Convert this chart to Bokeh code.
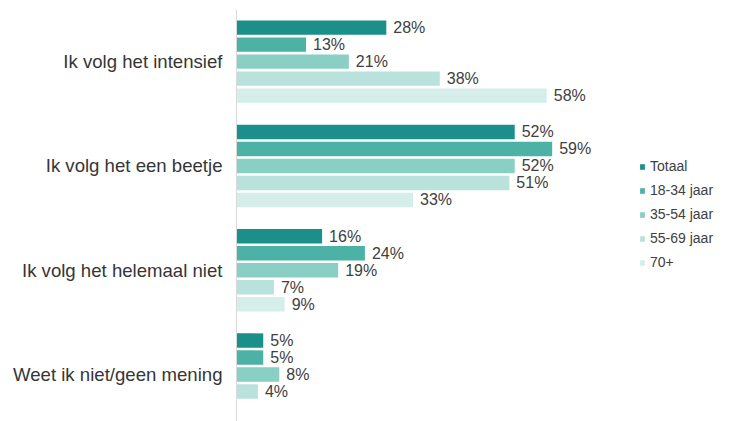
from bokeh.plotting import figure
from bokeh.models import ColumnDataSource, Range1d, FixedTicker, Legend, LegendItem
from bokeh.embed import file_html
from bokeh.resources import INLINE
from bokeh.core.properties import value

categories = ["Ik volg het intensief", "Ik volg het een beetje",
              "Ik volg het helemaal niet", "Weet ik niet/geen mening"]
series = ["Totaal", "18-34 jaar", "35-54 jaar", "55-69 jaar", "70+"]
totaal = [28, 52, 16, 5]
jaar_18_34 = [13, 59, 24, 5]
jaar_35_54 = [21, 52, 19, 8]
jaar_55_69 = [38, 51, 7, 4]
jaar_70 = [58, 33, 9, None]
values = [totaal, jaar_18_34, jaar_35_54, jaar_55_69, jaar_70]
colors = ["#1b8f89", "#4cb2a5", "#8acfc3", "#b9e2dc", "#d6eeea"]

FONT = "Liberation Sans"
TEXT = "#404040"

p = figure(width=740, height=421, output_backend="svg", toolbar_location=None,
           x_range=Range1d(0, 94.2), y_range=Range1d(-3.45, 0.5),
           min_border_left=236, min_border_right=0, min_border_top=9, min_border_bottom=0)
p.outline_line_color = None
p.xgrid.visible = False
p.ygrid.visible = False
p.xaxis.visible = False

pitch = 0.163
bar_h = 0.138
items = []
for k, (name, vals, col) in enumerate(zip(series, values, colors)):
    ys, xs, labels = [], [], []
    for g, v in enumerate(vals):
        if v is None:
            continue
        ys.append(-g + (2 - k) * pitch)
        xs.append(v)
        labels.append(f"{v}%")
    src = ColumnDataSource(dict(y=ys, x=xs, label=labels))
    r = p.hbar(y="y", right="x", left=0, height=bar_h, source=src,
               fill_color=col, line_color=None)
    p.text(x="x", y="y", text="label", source=src, x_offset=7,
           text_baseline="middle", text_align="left",
           text_font=value(FONT), text_font_size="16px", text_color=TEXT)
    items.append(LegendItem(label=name, renderers=[r]))

ax = p.yaxis[0]
ax.ticker = FixedTicker(ticks=[0, -1, -2, -3])
ax.major_label_overrides = {-g: c for g, c in enumerate(categories)}
ax.major_tick_line_color = None
ax.minor_tick_line_color = None
ax.axis_line_color = "#d9d9d9"
ax.major_label_text_font = FONT
ax.major_label_text_font_size = "18.6px"
ax.major_label_text_color = "#363636"
ax.major_label_standoff = 8

legend = Legend(items=items, location=(403, 151), padding=0, margin=0,
                border_line_color=None, background_fill_alpha=0,
                glyph_width=6, glyph_height=7, label_height=16, spacing=8,
                label_standoff=5, label_text_font=FONT,
                label_text_font_size="14px", label_text_color=TEXT)
p.add_layout(legend)

open("out.html", "w").write(file_html(p, INLINE))
